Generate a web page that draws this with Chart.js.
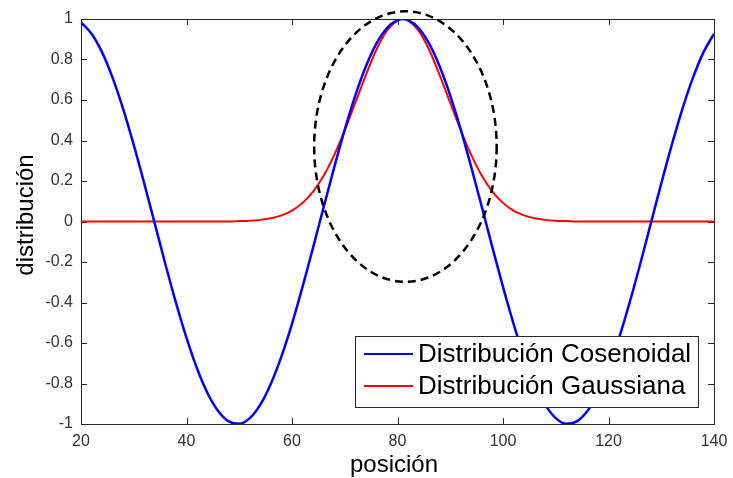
<!DOCTYPE html>
<html>
<head>
<meta charset="utf-8">
<script src="https://cdn.jsdelivr.net/npm/chart.js@4/dist/chart.umd.min.js"></script>
<style>
  html, body { margin: 0; padding: 0; background: #fff; }
  #wrap { width: 733px; height: 478px; position: relative; }
</style>
</head>
<body>
<div id="wrap"><canvas id="c" width="733" height="478"></canvas></div>
<script>
// ---- data ----
const positions = [20,22,24,26,28,30,32,34,36,38,40,42,44,46,48,50,52,54,56,58,60,62,64,66,68,70,72,74,76,78,80,81,82,84,86,88,90,92,94,96,98,100,102,104,106,108,110,112,114,116,118,120,122,124,126,128,130,132,134,136,138,140];
const cosenoidal = [0.983,0.927,0.835,0.709,0.555,0.378,0.187,-0.012,-0.211,-0.401,-0.575,-0.726,-0.848,-0.936,-0.987,-0.999,-0.971,-0.904,-0.801,-0.666,-0.505,-0.323,-0.129,0.071,0.267,0.454,0.622,0.765,0.878,0.955,0.995,1.000,0.995,0.955,0.878,0.765,0.622,0.454,0.267,0.071,-0.129,-0.323,-0.505,-0.666,-0.801,-0.904,-0.971,-0.999,-0.987,-0.936,-0.848,-0.726,-0.575,-0.401,-0.211,-0.012,0.187,0.378,0.555,0.709,0.835,0.927];
const gaussiana = [0,0,0,0,0,0,0,0,0,0,0,0,0,0,0,0.002,0.004,0.008,0.016,0.030,0.054,0.092,0.148,0.226,0.328,0.450,0.586,0.723,0.848,0.942,0.993,1.000,0.993,0.942,0.848,0.723,0.586,0.450,0.328,0.226,0.148,0.092,0.054,0.030,0.016,0.008,0.004,0.002,0,0,0,0,0,0,0,0,0,0,0,0,0,0];
const seriesLabels = ['Distribución Cosenoidal', 'Distribución Gaussiana'];
const xTicks = [20,40,60,80,100,120,140];
const yTicks = [-1,-0.8,-0.6,-0.4,-0.2,0,0.2,0.4,0.6,0.8,1];
const xTitle = 'posición';
const yTitle = 'distribución';
// highlighted region (dashed ellipse): center and radii in data units
const ellipseCenter = [81.5, 0.37];
const ellipseRadii = [17.3, 0.668];

const FONT = "'Liberation Sans', Arial, Helvetica, sans-serif";

function pts(ys) { return positions.map((x, i) => ({x: x, y: ys[i]})); }

const framePlugin = {
  id: 'frame',
  beforeDatasetsDraw(chart) {
    const {ctx, chartArea: a, scales} = chart;
    ctx.save();
    ctx.strokeStyle = '#262626';
    ctx.lineWidth = 1;
    ctx.beginPath();
    xTicks.forEach(v => {
      const px = Math.round(scales.x.getPixelForValue(v)) + 0.5;
      ctx.moveTo(px, a.bottom); ctx.lineTo(px, a.bottom - 6);
      ctx.moveTo(px, a.top); ctx.lineTo(px, a.top + 6);
    });
    yTicks.forEach(v => {
      const py = Math.round(scales.y.getPixelForValue(v)) + 0.5;
      ctx.moveTo(a.left, py); ctx.lineTo(a.left + 6, py);
      ctx.moveTo(a.right, py); ctx.lineTo(a.right - 6, py);
    });
    ctx.stroke();
    ctx.strokeRect(Math.round(a.left) + 0.5, Math.round(a.top) + 0.5,
                   Math.round(a.right - a.left), Math.round(a.bottom - a.top));
    // axis titles
    ctx.fillStyle = '#000';
    ctx.font = '24px ' + FONT;
    ctx.textAlign = 'center';
    ctx.textBaseline = 'alphabetic';
    ctx.fillText(xTitle, (a.left + a.right) / 2 + (394 - 397.5), 472);
    ctx.translate(33, 215);
    ctx.rotate(-Math.PI / 2);
    ctx.fillText(yTitle, 0, 0);
    ctx.restore();
  },
  afterDatasetsDraw(chart) {
    const {ctx, scales} = chart;
    ctx.save();
    // dashed ellipse
    const cx = scales.x.getPixelForValue(ellipseCenter[0]);
    const cy = scales.y.getPixelForValue(ellipseCenter[1]);
    const rx = Math.abs(scales.x.getPixelForValue(ellipseCenter[0] + ellipseRadii[0]) - cx);
    const ry = Math.abs(scales.y.getPixelForValue(ellipseCenter[1] + ellipseRadii[1]) - cy);
    ctx.strokeStyle = '#000';
    ctx.lineWidth = 2.5;
    ctx.setLineDash([8, 5]);
    ctx.beginPath();
    ctx.ellipse(cx, cy, rx, ry, 0, 0, Math.PI * 2);
    ctx.stroke();
    ctx.setLineDash([]);
    // legend
    const L = 355, T = 336, R = 698, B = 407;
    ctx.fillStyle = '#fff';
    ctx.fillRect(L, T, R - L, B - T);
    ctx.strokeStyle = '#262626';
    ctx.lineWidth = 1;
    ctx.strokeRect(L + 0.5, T + 0.5, R - L, B - T);
    const rows = [354, 386];
    chart.data.datasets.forEach((ds, i) => {
      ctx.strokeStyle = ds.borderColor;
      ctx.lineWidth = 2;
      ctx.beginPath();
      ctx.moveTo(364, rows[i]); ctx.lineTo(413, rows[i]);
      ctx.stroke();
      ctx.fillStyle = '#000';
      ctx.font = '26px ' + FONT;
      ctx.textAlign = 'left';
      ctx.textBaseline = 'middle';
      ctx.fillText(ds.label, 418, rows[i] + 1);
    });
    ctx.restore();
  }
};

new Chart(document.getElementById('c'), {
  type: 'line',
  data: {
    datasets: [
      { label: seriesLabels[0], data: pts(cosenoidal), borderColor: '#0000ff', borderWidth: 2.5,
        pointRadius: 0, cubicInterpolationMode: 'monotone', fill: false },
      { label: seriesLabels[1], data: pts(gaussiana), borderColor: '#ff0000', borderWidth: 2,
        pointRadius: 0, cubicInterpolationMode: 'monotone', fill: false }
    ]
  },
  options: {
    responsive: false,
    animation: false,
    events: [],
    layout: { padding: { left: 0, top: 19, right: 19, bottom: 0 } },
    plugins: { legend: { display: false }, tooltip: { enabled: false } },
    scales: {
      x: {
        type: 'linear', min: 20, max: 140,
        afterBuildTicks: s => { s.ticks = xTicks.map(v => ({value: v})); },
        afterFit: s => { s.height = 54; s.paddingLeft = 0; s.paddingRight = 0; },
        grid: { display: false, drawTicks: false },
        border: { display: false },
        ticks: { color: '#333', font: { family: FONT, size: 16 }, padding: 8, maxRotation: 0,
                 autoSkip: false, callback: v => String(v) }
      },
      y: {
        type: 'linear', min: -1, max: 1,
        afterBuildTicks: s => { s.ticks = yTicks.map(v => ({value: v})); },
        afterFit: s => { s.width = 81; s.paddingTop = 0; s.paddingBottom = 0; },
        grid: { display: false, drawTicks: false },
        border: { display: false },
        ticks: { color: '#333', font: { family: FONT, size: 16 }, padding: 8, autoSkip: false,
                 callback: v => String(Math.round(v * 10) / 10) }
      }
    }
  },
  plugins: [framePlugin]
});
</script>
</body>
</html>
